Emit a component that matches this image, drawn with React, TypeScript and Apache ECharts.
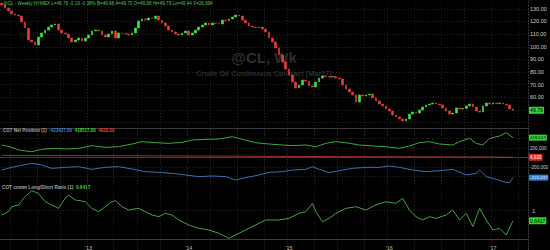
import React, { useEffect, useRef } from "react";
import * as echarts from "echarts";

// ---------- data ----------
const symbolHeader =
  "@CL - Weekly NYMEX L=49.79 -0.19 -0.38% B=49.68 A=49.70 O=49.88 Hi=49.79 Lo=49.44 V=26,694";
const watermark = "@CL, Wk";
const watermarkSub = "Crude Oil Continuous Contract [Mar17]";

const yearLabels = ["'13", "'14", "'15", "'16", "'17"];
const yearIdx = [26, 56, 86, 116, 147];
const quarterIdx = [3, 11, 18, 26, 34, 41, 48, 56, 63, 71, 79, 86, 94, 101, 109, 116, 124, 132, 139, 147, 155];
const CATEGORY_COUNT = 158;

const firstOpen = 134.5;
const closes = [
  133.0, 130.6, 128.3, 125.9, 125.1, 124.3, 119.6, 114.8, 105.3, 103.8,
  101.4, 107.7, 110.9, 113.2, 115.6, 117.2, 118.0, 113.2, 110.9, 110.1,
  106.9, 103.8, 105.3, 106.9, 104.5, 106.9, 109.3, 112.5, 113.2, 112.5,
  109.3, 107.7, 110.1, 112.5, 106.9, 110.9, 110.6, 110.1, 109.3, 110.9,
  114.8, 120.4, 121.9, 121.1, 122.7, 122.3, 124.3, 121.1, 118.8, 116.4,
  113.2, 111.7, 110.1, 109.3, 110.9, 112.5, 109.3, 110.9, 113.2, 115.6,
  117.2, 118.8, 117.2, 118.8, 118.4, 118.0, 121.1, 120.7, 121.9, 123.5,
  125.1, 124.3, 121.1, 118.8, 116.4, 115.6, 115.2, 115.6, 114.0, 111.7,
  106.9, 103.8, 99.0, 93.5, 88.0, 82.4, 77.7, 72.1, 67.4, 69.8,
  73.7, 72.9, 69.0, 68.2, 72.1, 75.3, 76.9, 76.5, 76.1, 76.4,
  75.3, 74.5, 69.8, 66.6, 64.2, 61.9, 56.3, 61.9, 61.1, 61.9,
  62.6, 59.5, 57.1, 54.7, 53.2, 50.8, 49.2, 46.0, 44.5, 42.9,
  41.3, 42.9, 46.8, 48.4, 47.6, 50.0, 52.4, 54.0, 54.7, 55.5,
  54.7, 54.0, 51.6, 49.2, 46.8, 47.6, 51.6, 50.8, 51.2, 53.2,
  54.7, 52.4, 49.2, 48.4, 53.2, 55.5, 54.7, 55.5, 55.1, 55.5,
  54.7, 54.0, 50.8, 49.79,
];

// COT net positions: [week index, value]
const cotCommercial: [number, number][] = [
  [0, -263000], [3, -207000], [5, -179000], [9, -123000], [12, -158000], [15, -228000],
  [19, -207000], [23, -193000], [27, -249000], [31, -207000], [35, -193000], [39, -242000],
  [43, -298000], [47, -312000], [51, -333000], [55, -368000], [59, -403000], [63, -389000],
  [67, -403000], [70, -474000], [73, -424000], [77, -368000], [80, -312000], [84, -298000],
  [87, -263000], [91, -249000], [93, -193000], [95, -249000], [98, -319000], [101, -277000],
  [105, -228000], [109, -207000], [113, -207000], [116, -179000], [119, -207000], [123, -263000],
  [127, -298000], [131, -277000], [135, -249000], [139, -368000], [142, -333000], [143, -263000],
  [145, -403000], [148, -459000], [150, -509000], [152, -530000], [153, -423437],
];
const cotNonCommercial: [number, number][] = [
  [0, 263000], [3, 215000], [5, 158000], [9, 122000], [12, 172000], [16, 193000],
  [19, 179000], [23, 193000], [27, 249000], [31, 214000], [35, 228000], [39, 284000],
  [42, 333000], [46, 312000], [50, 298000], [54, 319000], [57, 368000], [61, 382000],
  [65, 389000], [69, 438000], [72, 382000], [76, 312000], [80, 284000], [84, 263000],
  [87, 249000], [91, 263000], [94, 228000], [97, 298000], [100, 333000], [103, 312000],
  [107, 263000], [111, 242000], [115, 228000], [119, 193000], [122, 242000], [125, 312000],
  [128, 333000], [131, 284000], [135, 263000], [137, 333000], [140, 403000], [142, 298000],
  [144, 263000], [146, 403000], [149, 452000], [151, 522000], [153, 418517],
];
const cotNonReportable: [number, number][] = [
  [0, 45000], [10, 42000], [20, 40000], [30, 38000], [40, 36000], [50, 33000],
  [60, 30000], [70, 28000], [80, 25000], [90, 22000], [100, 18000], [110, 16000],
  [120, 14000], [130, 12000], [140, 10000], [150, 8000], [153, 4920],
];
const commRatio: [number, number][] = [
  [0, 0.842], [2, 0.958], [3, 1.133], [5, 1.193], [7, 1.485], [9, 1.695], [11, 1.602],
  [13, 1.31], [15, 1.193], [17, 1.076], [19, 1.427], [20, 1.544], [22, 1.368], [25, 1.31],
  [27, 1.076], [29, 0.958], [31, 1.133], [33, 1.31], [34, 1.345], [36, 1.133], [38, 1.018],
  [41, 1.076], [43, 0.958], [45, 0.842], [47, 0.784], [49, 0.901], [51, 0.842], [53, 0.667],
  [56, 0.491], [59, 0.374], [62, 0.316], [65, 0.199], [68, 0.025], [71, 0.199], [74, 0.374],
  [77, 0.55], [79, 0.667], [83, 0.667], [86, 0.725], [89, 0.901], [91, 0.958], [93, 1.252],
  [94, 0.958], [96, 0.608], [98, 0.725], [100, 0.901], [103, 1.076], [106, 1.133], [109, 1.018],
  [112, 1.193], [115, 1.31], [118, 1.252], [120, 1.427], [122, 1.018], [124, 0.784], [126, 0.667],
  [128, 0.784], [130, 0.725], [133, 0.842], [135, 1.018], [137, 0.667], [139, 0.901], [141, 0.433],
  [143, 1.076], [145, 0.667], [147, 0.316], [149, 0.374], [151, 0.14], [153, 0.6417],
];

// ---------- styling ----------
const FONT = "'Liberation Sans', Arial, sans-serif";
const GRID_LINE = "#262626";
const UP = "#3fe43f";
const DOWN = "#ee3a3a";
const BLUE_LINE = "#3a70b0";
const GREEN_LINE = "#3fa53f";
const RED_LINE = "#a83030";

const last = <T,>(a: T[]) => a[a.length - 1];
const fmtInt = (v: number) => Math.round(v).toLocaleString("en-US");

export default function App() {
  const ref = useRef<HTMLDivElement>(null);

  useEffect(() => {
    if (!ref.current) return;
    const chart = echarts.init(ref.current, undefined, { renderer: "svg" });

    const categories = Array.from({ length: CATEGORY_COUNT }, (_, i) => String(i));
    const candles = closes.map((c, i) => {
      const o = i === 0 ? firstOpen : closes[i - 1];
      return [o, c, Math.min(o, c), Math.max(o, c)];
    });

    const lastClose = last(closes);
    const lastComm = last(cotCommercial)[1];
    const lastNonComm = last(cotNonCommercial)[1];
    const lastNonRep = last(cotNonReportable)[1];
    const lastRatio = last(commRatio)[1];

    const baseX = (gridIndex: number, offset: number, showLabels: boolean) => ({
      type: "category" as const,
      gridIndex,
      data: categories,
      boundaryGap: true,
      offset,
      axisLine: { show: true, lineStyle: { color: "#3c3c3c", width: 1 } },
      axisTick: { show: false },
      axisLabel: showLabels
        ? {
            show: true,
            interval: (i: number) => yearIdx.includes(i),
            formatter: (_v: string, i: number) => {
              const k = yearIdx.indexOf(i);
              return k >= 0 ? yearLabels[k] : "";
            },
            color: "#bdbdbd",
            fontSize: 5.5,
            margin: 3,
            fontFamily: FONT,
          }
        : { show: false },
      splitLine: {
        show: true,
        interval: (i: number) => quarterIdx.includes(i),
        lineStyle: { color: GRID_LINE, type: [1, 2] as any, width: 1 },
      },
    });

    const lineLabel = (bg: string, fg: string, text: string, fontSize: number) => ({
      silent: true,
      symbol: ["none", "none"],
      lineStyle: { color: "transparent", width: 0 },
      label: {
        show: true,
        position: "end" as const,
        distance: 1,
        formatter: text,
        backgroundColor: bg,
        color: fg,
        padding: [1, 1, 1, 1],
        fontSize,
        fontFamily: FONT,
      },
    });

    const gridBase = { left: 0, width: 528, outerBoundsMode: "none", containLabel: false };

    chart.setOption({
      animation: false,
      backgroundColor: "#000000",
      textStyle: { fontFamily: FONT },
      title: [
        {
          left: 3,
          top: 1,
          padding: 0,
          text: symbolHeader,
          textStyle: { fontSize: 4.6, color: "#55c855", fontWeight: "normal", fontFamily: FONT },
        },
        {
          left: 3,
          top: 128,
          padding: 0,
          text:
            "{a|COT Net Position (1)}  {b|" + lastComm.toFixed(2) + "}  {c|" + lastNonComm.toFixed(2) +
            "}  {d|" + lastNonRep.toFixed(2) + "}",
          textStyle: {
            fontSize: 4.5,
            fontFamily: FONT,
            rich: {
              a: { color: "#a8a8a8", fontSize: 4.5, fontFamily: FONT },
              b: { color: "#3d86d8", fontSize: 4.5, fontFamily: FONT },
              c: { color: "#3fd23f", fontSize: 4.5, fontFamily: FONT },
              d: { color: "#e03a3a", fontSize: 4.5, fontFamily: FONT },
            },
          },
        },
        {
          left: 2,
          top: 185,
          padding: 0,
          text: "{a|COT comm Long/Short Ratio (1)}  {c|" + lastRatio.toFixed(4) + "}",
          textStyle: {
            fontSize: 4.7,
            fontFamily: FONT,
            rich: {
              a: { color: "#a8a8a8", fontSize: 4.7, fontFamily: FONT },
              c: { color: "#3fd23f", fontSize: 4.7, fontFamily: FONT },
            },
          },
        },
      ],
      graphic: [
        {
          type: "text",
          x: 264,
          y: 57,
          z: -10,
          silent: true,
          style: {
            text: watermark,
            align: "center",
            verticalAlign: "middle",
            fontSize: 15,
            fontWeight: "bold",
            fontFamily: FONT,
            fill: "#2e2e2e",
          },
        },
        {
          type: "text",
          x: 264,
          y: 73,
          z: -10,
          silent: true,
          style: {
            text: watermarkSub,
            align: "center",
            verticalAlign: "middle",
            fontSize: 7.3,
            fontWeight: "bold",
            fontFamily: FONT,
            fill: "#2e2e2e",
          },
        },
      ],
      grid: [
        { ...gridBase, top: -3.85, height: 139.15 },
        { ...gridBase, top: 129, height: 57 },
        { ...gridBase, top: 153.5, height: 114 },
      ],
      xAxis: [baseX(0, -7.3, false), baseX(1, -4, false), baseX(2, -25.5, true)],
      yAxis: [
        {
          type: "value",
          gridIndex: 0,
          position: "right",
          min: 30,
          max: 140,
          interval: 10,
          axisLine: { show: true, lineStyle: { color: "#3c3c3c", type: [1, 2] as any } },
          axisTick: { show: false },
          axisLabel: {
            color: "#cfcfcf",
            fontSize: 5.5,
            margin: 2,
            formatter: (v: number) => (v >= 60 && v <= 130 ? v.toFixed(2) : ""),
          },
          splitLine: {
            show: true,
            lineStyle: {
              color: ["transparent", GRID_LINE, GRID_LINE, GRID_LINE, GRID_LINE, GRID_LINE,
                GRID_LINE, GRID_LINE, GRID_LINE, GRID_LINE, GRID_LINE, GRID_LINE],
              type: [1, 2] as any,
            },
          },
        },
        {
          type: "value",
          gridIndex: 1,
          position: "right",
          min: -600000,
          max: 600000,
          interval: 200000,
          axisLine: { show: true, lineStyle: { color: "#3c3c3c", type: [1, 2] as any } },
          axisTick: { show: false },
          axisLabel: {
            color: "#cfcfcf",
            fontSize: 4.6,
            margin: 2,
            formatter: (v: number) => (Math.abs(v) === 200000 ? fmtInt(v) : ""),
          },
          splitLine: {
            show: true,
            lineStyle: {
              color: ["transparent", GRID_LINE, GRID_LINE, GRID_LINE, GRID_LINE, GRID_LINE, "transparent"],
              type: [1, 2] as any,
            },
          },
        },
        {
          type: "value",
          gridIndex: 2,
          position: "right",
          min: -1,
          max: 3,
          interval: 1,
          axisLine: { show: true, lineStyle: { color: "#3c3c3c", type: [1, 2] as any } },
          axisTick: { show: false },
          axisLabel: {
            color: "#cfcfcf",
            fontSize: 5.5,
            margin: 4,
            formatter: (v: number) => (v === 1 ? "1" : ""),
          },
          splitLine: {
            show: true,
            lineStyle: {
              color: ["transparent", "transparent", GRID_LINE, "transparent", "transparent"],
              type: [1, 2] as any,
            },
          },
        },
      ],
      series: [
        {
          type: "candlestick",
          name: "@CL",
          xAxisIndex: 0,
          yAxisIndex: 0,
          data: candles,
          barWidth: 2.2,
          itemStyle: {
            color: UP,
            color0: DOWN,
            borderColor: UP,
            borderColor0: DOWN,
            borderWidth: 0.6,
          },
          markLine: { ...lineLabel("#2fd82f", "#000", lastClose.toFixed(2), 5.2), data: [{ yAxis: lastClose }] },
        },
        {
          type: "line",
          name: "Commercial",
          xAxisIndex: 1,
          yAxisIndex: 1,
          data: cotCommercial,
          symbol: "none",
          lineStyle: { color: BLUE_LINE, width: 1 },
          markLine: { ...lineLabel("#2f7ed0", "#e8f0ff", fmtInt(lastComm), 4.4), data: [{ yAxis: lastComm }] },
        },
        {
          type: "line",
          name: "Non-Commercial",
          xAxisIndex: 1,
          yAxisIndex: 1,
          data: cotNonCommercial,
          symbol: "none",
          lineStyle: { color: GREEN_LINE, width: 1 },
          markLine: { ...lineLabel("#2fd82f", "#000", fmtInt(lastNonComm), 4.4), data: [{ yAxis: lastNonComm }] },
        },
        {
          type: "line",
          name: "Non-Reportable",
          xAxisIndex: 1,
          yAxisIndex: 1,
          data: cotNonReportable,
          symbol: "none",
          lineStyle: { color: RED_LINE, width: 1 },
          markLine: { ...lineLabel("#e02424", "#ffffff", fmtInt(lastNonRep), 4.6), data: [{ yAxis: lastNonRep }] },
        },
        {
          type: "line",
          name: "COT comm Long/Short Ratio",
          xAxisIndex: 2,
          yAxisIndex: 2,
          data: commRatio,
          symbol: "none",
          lineStyle: { color: GREEN_LINE, width: 1 },
          markLine: { ...lineLabel("#2fd82f", "#000", lastRatio.toFixed(4), 5), data: [{ yAxis: lastRatio }] },
        },
      ],
    });

    return () => chart.dispose();
  }, []);

  return (
    <div
      ref={ref}
      style={{ position: "fixed", left: 0, top: 0, width: 550, height: 250, background: "#000" }}
    />
  );
}
